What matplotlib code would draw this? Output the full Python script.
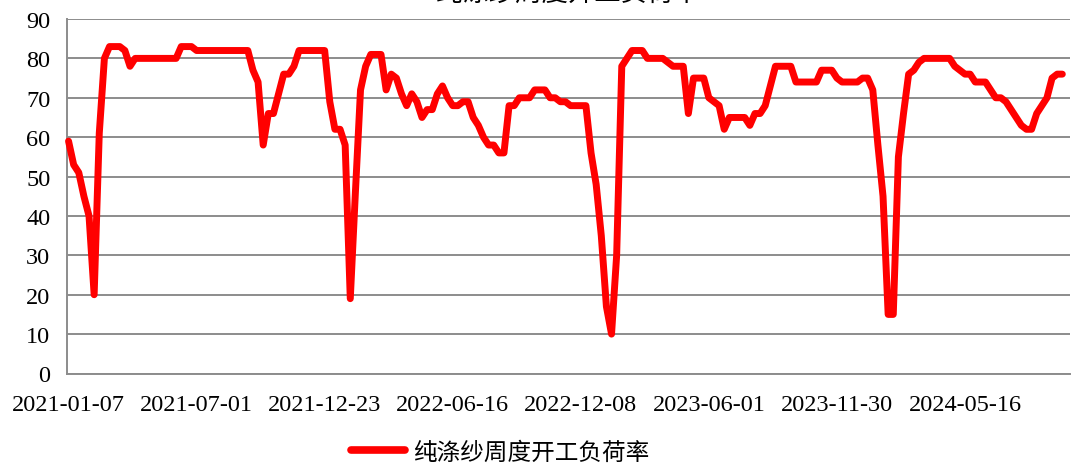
import matplotlib
matplotlib.use('Agg')
import matplotlib.pyplot as plt
from matplotlib.lines import Line2D
from matplotlib.font_manager import FontProperties

# ---------------- data ----------------
title_text = '纯涤纱周度开工负荷率'
series_name = '纯涤纱周度开工负荷率'
tick_labels = ['2021-01-07', '2021-07-01', '2021-12-23', '2022-06-16',
               '2022-12-08', '2023-06-01', '2023-11-30', '2024-05-16']
tick_every = 25  # weekly points between labels
y_ticks = [0, 10, 20, 30, 40, 50, 60, 70, 80, 90]

values = [
    59, 53, 51, 45, 40, 20, 61, 80, 83, 83,
    83, 82, 78, 80, 80, 80, 80, 80, 80, 80,
    80, 80, 83, 83, 83, 82, 82, 82, 82, 82,
    82, 82, 82, 82, 82, 82, 77, 74, 58, 66,
    66, 71, 76, 76, 78, 82, 82, 82, 82, 82,
    82, 69, 62, 62, 58, 19, 46, 72, 78, 81,
    81, 81, 72, 76, 75, 71, 68, 71, 69, 65,
    67, 67, 71, 73, 70, 68, 68, 69, 69, 65,
    63, 60, 58, 58, 56, 56, 68, 68, 70, 70,
    70, 72, 72, 72, 70, 70, 69, 69, 68, 68,
    68, 68, 56, 48, 35, 17, 10, 30, 78, 80,
    82, 82, 82, 80, 80, 80, 80, 79, 78, 78,
    78, 66, 75, 75, 75, 70, 69, 68, 62, 65,
    65, 65, 65, 63, 66, 66, 68, 73, 78, 78,
    78, 78, 74, 74, 74, 74, 74, 77, 77, 77,
    75, 74, 74, 74, 74, 75, 75, 72, 58, 45,
    15, 15, 55, 66, 76, 77, 79, 80, 80, 80,
    80, 80, 80, 78, 77, 76, 76, 74, 74, 74,
    72, 70, 70, 69, 67, 65, 63, 62, 62, 66,
    68, 70, 75, 76, 76,
]

# ---------------- style ----------------
W, H = 1071, 464
grid_color = '#8c8c8c'
line_color = '#ff0000'
serif = 'Liberation Serif'
cjk = FontProperties(family=['Noto Sans CJK SC', 'DejaVu Sans'], size=17)

fig = plt.figure(figsize=(W / 100, H / 100), dpi=100)
ax = fig.add_axes([67 / W, 1 - 374.5 / H, (1070 - 67) / W, (374.5 - 20) / H])

x = list(range(len(values)))
ax.plot(x, values, color=line_color, lw=5.0, solid_joinstyle='round',
        solid_capstyle='round', zorder=3, clip_on=False)

ax.set_xlim(-0.3, 195.5)
ax.set_ylim(0, 90)
ax.set_yticks(y_ticks)
ax.set_xticks([k * tick_every for k in range(len(tick_labels))])
ax.set_xticklabels(tick_labels)

ax.grid(axis='y', color=grid_color, lw=1.4)
ax.grid(axis='x', visible=False)
ax.set_axisbelow(True)
for s in ['top', 'right']:
    ax.spines[s].set_visible(False)
for s in ['left', 'bottom']:
    ax.spines[s].set_color(grid_color)
    ax.spines[s].set_linewidth(1.4)

ax.tick_params(axis='both', length=0, labelsize=17.5)
ax.tick_params(axis='x', pad=15)
ax.tick_params(axis='y', pad=12)
for lab in ax.get_xticklabels() + ax.get_yticklabels():
    lab.set_family(serif)

# title (cut off at the top of the picture, as in the reference)
fig.text(568 / W, 1 - 0.5 / H, title_text, ha='center', va='baseline',
         fontproperties=FontProperties(family=['Noto Sans CJK SC', 'DejaVu Sans'], size=19))

handle = Line2D([], [], color=line_color, lw=5.5, solid_capstyle='round')
fig.legend([handle], [series_name], loc='center',
           bbox_to_anchor=(500 / W, 1 - 453 / H), frameon=False, prop=cjk,
           handlelength=2.3, handletextpad=0.35, borderaxespad=0, borderpad=0)

fig.savefig('out.png', dpi=100)
